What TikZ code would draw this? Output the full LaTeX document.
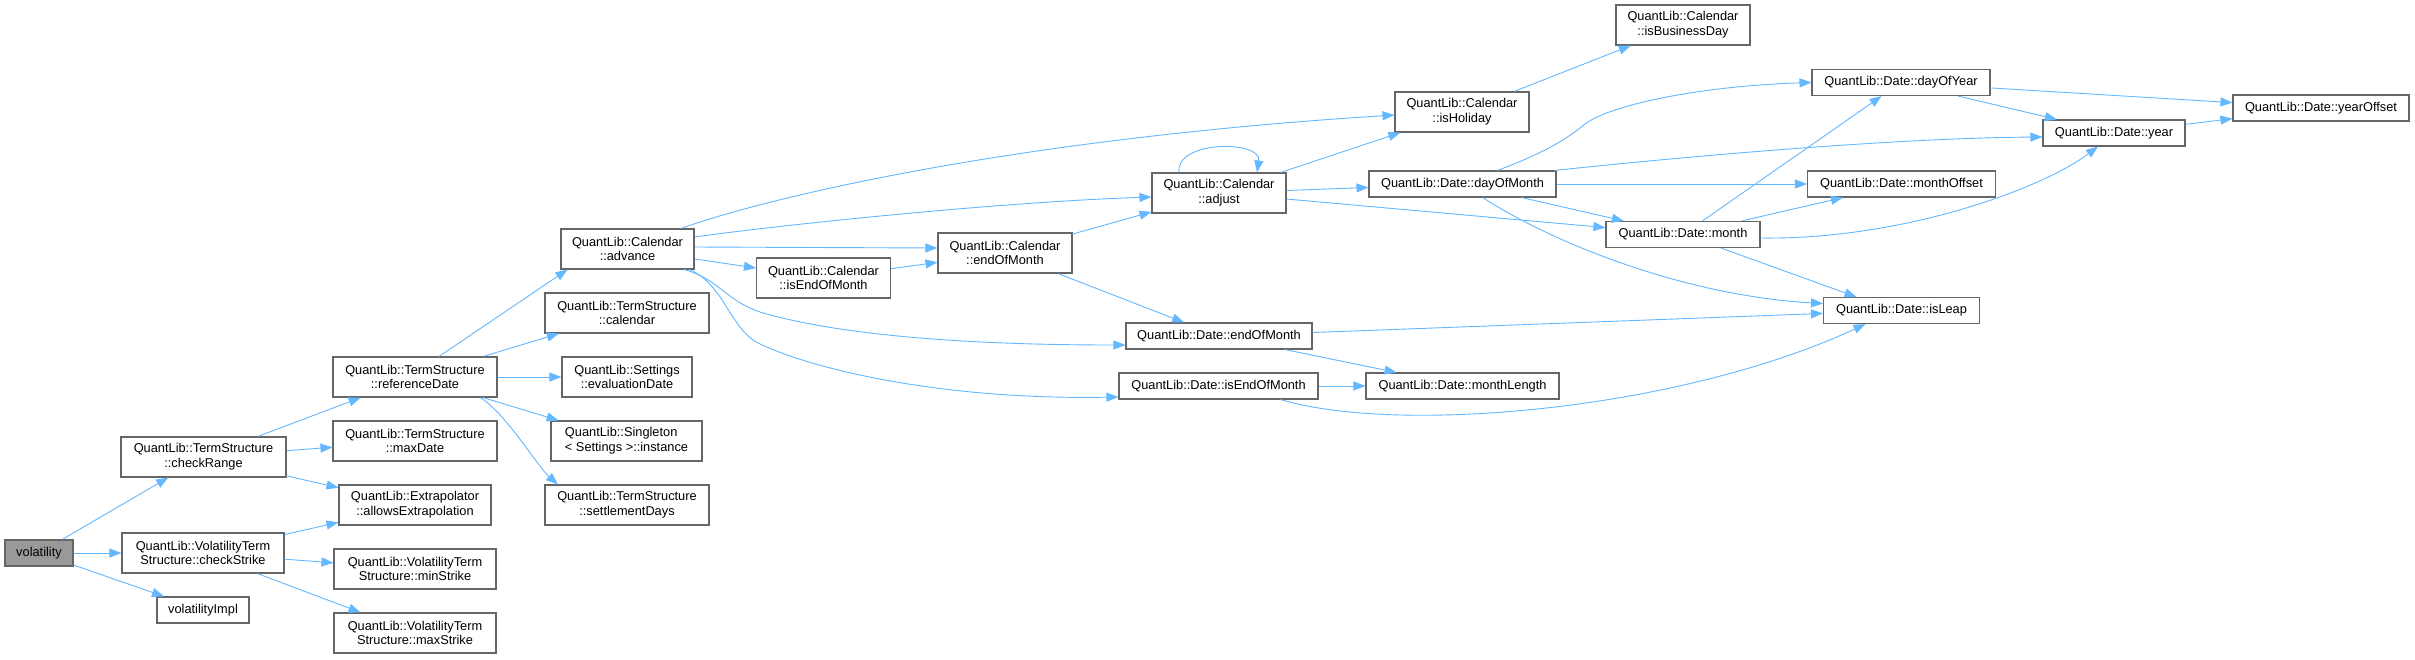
\documentclass[tikz,border=0pt]{standalone}
\usepackage{fontspec}
\setmainfont{Liberation Sans}
\usetikzlibrary{arrows.meta}
\definecolor{edgeblue}{HTML}{63B8FF}
\definecolor{boxgray}{HTML}{666666}
\definecolor{rootgray}{HTML}{999999}
\tikzset{
  fnbox/.style={draw=boxgray, fill=white, line width=1.1pt, inner sep=0pt, align=center,
    font=\fontsize{12.8}{14.7}\selectfont, minimum height=40pt},
  onel/.style={minimum height=26pt},
  calledge/.style={draw=edgeblue, line width=0.9pt, -{Triangle[length=12pt,width=9pt]}},
}
\begin{document}
\begin{tikzpicture}[x=1pt,y=-1pt]
\fill[white] (0,0) rectangle (2415,659);
\useasboundingbox (0,0) rectangle (2415,659);
% nodes
\node[fnbox, onel, fill=rootgray, minimum width=68pt] (vol) at (39,553) {volatility};
\node[fnbox, minimum width=165pt] (chkR) at (203.5,457) {QuantLib::TermStructure\\::checkRange};
\node[fnbox, minimum width=162pt] (chkS) at (203,553) {QuantLib::VolatilityTerm\\Structure::checkStrike};
\node[fnbox, onel, minimum width=92pt] (volImpl) at (203,610) {volatilityImpl};
\node[fnbox, minimum width=164pt] (refD) at (415,377) {QuantLib::TermStructure\\::referenceDate};
\node[fnbox, minimum width=164pt] (maxD) at (415,441) {QuantLib::TermStructure\\::maxDate};
\node[fnbox, minimum width=152pt] (allowX) at (415,505) {QuantLib::Extrapolator\\::allowsExtrapolation};
\node[fnbox, minimum width=162pt] (minS) at (415,569) {QuantLib::VolatilityTerm\\Structure::minStrike};
\node[fnbox, minimum width=162pt] (maxS) at (415,633) {QuantLib::VolatilityTerm\\Structure::maxStrike};
\node[fnbox, minimum width=133pt] (adv) at (627.5,249) {QuantLib::Calendar\\::advance};
\node[fnbox, minimum width=164pt] (cal) at (627,313) {QuantLib::TermStructure\\::calendar};
\node[fnbox, minimum width=130pt] (evalD) at (627,377) {QuantLib::Settings\\::evaluationDate};
\node[fnbox, minimum width=151pt, align=left] (inst) at (626.5,441) {QuantLib::Singleton\\< Settings >::instance};
\node[fnbox, minimum width=164pt] (settle) at (627,505) {QuantLib::TermStructure\\::settlementDays};
\node[fnbox, minimum width=134pt] (calIsEOM) at (823.5,278) {QuantLib::Calendar\\::isEndOfMonth};
\node[fnbox, minimum width=134pt] (calEOM) at (1005,253) {QuantLib::Calendar\\::endOfMonth};
\node[fnbox, minimum width=134pt] (adj) at (1219,193) {QuantLib::Calendar\\::adjust};
\node[fnbox, onel, minimum width=186pt] (dEOM) at (1219,336) {QuantLib::Date::endOfMonth};
\node[fnbox, onel, minimum width=199pt] (dIsEOM) at (1218.5,386) {QuantLib::Date::isEndOfMonth};
\node[fnbox, minimum width=134pt] (hol) at (1462,112) {QuantLib::Calendar\\::isHoliday};
\node[fnbox, minimum width=134pt] (bizD) at (1683,25) {QuantLib::Calendar\\::isBusinessDay};
\node[fnbox, onel, minimum width=187pt] (dom) at (1462.5,184) {QuantLib::Date::dayOfMonth};
\node[fnbox, onel, minimum width=193pt] (mlen) at (1462.5,386) {QuantLib::Date::monthLength};
\node[fnbox, onel, minimum width=154pt] (mon) at (1683,234.5) {QuantLib::Date::month};
\node[fnbox, onel, minimum width=178pt] (doy) at (1901,82.5) {QuantLib::Date::dayOfYear};
\node[fnbox, onel, minimum width=188pt] (moff) at (1901.5,184) {QuantLib::Date::monthOffset};
\node[fnbox, onel, minimum width=156pt] (leap) at (1901.5,310.5) {QuantLib::Date::isLeap};
\node[fnbox, onel, minimum width=142pt] (yr) at (2114,133) {QuantLib::Date::year};
\node[fnbox, onel, minimum width=176pt] (yoff) at (2321,108) {QuantLib::Date::yearOffset};
% edges
\draw[calledge] (vol) -- (chkR);
\draw[calledge] (vol) -- (chkS);
\draw[calledge] (vol) -- (volImpl);
\draw[calledge] (chkR) -- (refD);
\draw[calledge] (chkR) -- (maxD);
\draw[calledge] (chkR) -- (allowX);
\draw[calledge] (chkS) -- (allowX);
\draw[calledge] (chkS) -- (minS);
\draw[calledge] (chkS) -- (maxS);
\draw[calledge] ([xshift=24pt]refD.north) -- ([xshift=-60pt]adv.south);
\draw[calledge] (refD) -- (cal);
\draw[calledge] (refD) -- (evalD);
\draw[calledge] (refD) -- (inst);
\draw[calledge] ([xshift=65pt]refD.south) .. controls (505,412) and (538,467) .. ([xshift=-69pt]settle.north);
\draw[calledge] ([xshift=53.5pt]adv.north) .. controls (760,200) and (1000,140) .. ([yshift=-3pt]hol.west);
\draw[calledge] ([yshift=12pt]adv.east) .. controls (780,225) and (1000,202) .. ([yshift=-4pt]adj.west);
\draw[calledge] ([yshift=2pt]adv.east) -- ([yshift=5pt]calEOM.west);
\draw[calledge] (adv) -- (calIsEOM);
\draw[calledge] ([xshift=57pt]adv.south) .. controls (720,280) and (725,300) .. (760,312) .. controls (830,333) and (950,345) .. ([yshift=-9pt]dEOM.west);
\draw[calledge] ([xshift=62pt]adv.south) .. controls (725,285) and (730,330) .. (760,344) .. controls (820,372) and (950,400) .. ([yshift=-11pt]dIsEOM.west);
\draw[calledge] (calIsEOM) -- (calEOM);
\draw[calledge] (calEOM) -- (adj);
\draw[calledge] (calEOM) -- (dEOM);
\draw[calledge] ([xshift=-40pt]adj.north) .. controls (1175,140) and (1262,140) .. ([xshift=38pt]adj.north);
\draw[calledge] (adj) -- (hol);
\draw[calledge] (adj) -- (dom);
\draw[calledge] (adj) -- (mon);
\draw[calledge] (hol) -- (bizD);
\draw[calledge] ([xshift=35pt]dom.north) .. controls (1530,158) and (1560,145) .. (1585,124) .. controls (1610,105) and (1700,86) .. (doy.west);
\draw[calledge] ([xshift=92pt]dom.north) .. controls (1700,155) and (1900,138) .. ([yshift=-4pt]yr.west);
\draw[calledge] (dom) -- (moff);
\draw[calledge] (dom) -- (mon);
\draw[calledge] ([xshift=20pt]dom.south) .. controls (1560,247) and (1690,296) .. ([yshift=7pt]leap.west);
\draw[calledge] (mon) -- (doy);
\draw[calledge] (mon) -- (moff);
\draw[calledge] ([yshift=-3.5pt]mon.east) .. controls (1900,240) and (2040,190) .. ([xshift=-16pt]yr.south);
\draw[calledge] ([xshift=38pt]mon.south) -- ([xshift=-45pt]leap.north);
\draw[calledge] (doy) -- (yr);
\draw[calledge] (doy) -- (yoff);
\draw[calledge] (yr) -- (yoff);
\draw[calledge] (dEOM) -- (leap);
\draw[calledge] (dEOM) -- (mlen);
\draw[calledge] (dIsEOM) -- (mlen);
\draw[calledge] ([xshift=62pt]dIsEOM.south) .. controls (1400,435) and (1680,410) .. ([xshift=-36pt]leap.south);
\end{tikzpicture}
\end{document}
